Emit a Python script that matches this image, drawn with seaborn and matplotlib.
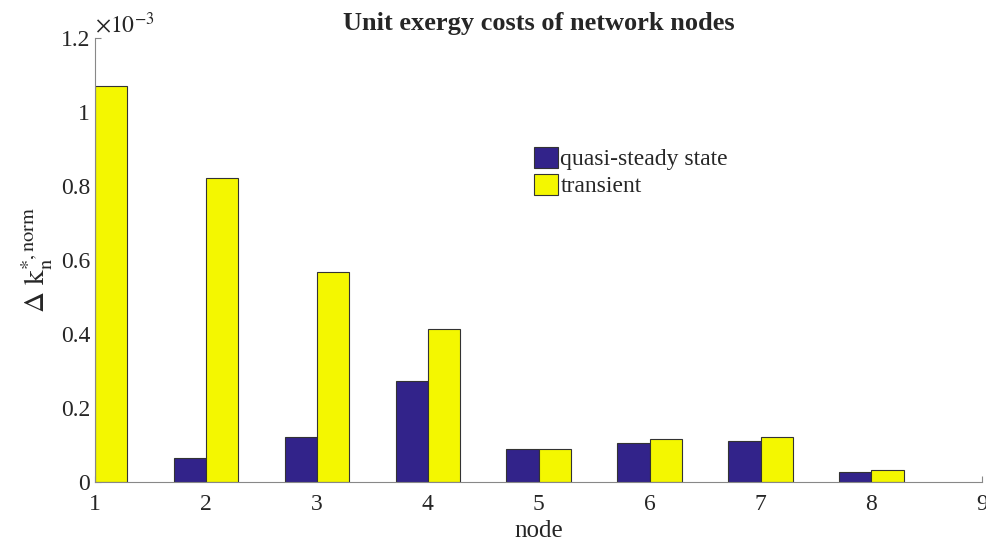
import numpy as np
import pandas as pd
import seaborn as sns
import matplotlib.pyplot as plt
from matplotlib.ticker import FuncFormatter

nodes = [1, 2, 3, 4, 5, 6, 7, 8]
quasi_steady = [0.0, 0.065e-3, 0.122e-3, 0.273e-3, 0.088e-3, 0.105e-3, 0.110e-3, 0.026e-3]
transient = [1.070e-3, 0.822e-3, 0.568e-3, 0.414e-3, 0.090e-3, 0.117e-3, 0.122e-3, 0.032e-3]
series = ['quasi-steady state', 'transient']
colors = ['#32238A', '#F4F700']

df = pd.DataFrame({
    'node': nodes * 2,
    'value': quasi_steady + transient,
    'case': [series[0]] * len(nodes) + [series[1]] * len(nodes),
})

sns.set_style('white')
plt.rcParams['font.family'] = ['Liberation Serif', 'DejaVu Serif']
plt.rcParams['mathtext.fontset'] = 'stix'

fig = plt.figure(figsize=(9.86, 5.44), dpi=100)
ax = fig.add_axes([0.0963, 0.114, 0.9, 0.816])

sns.barplot(data=df, x='node', y='value', hue='case', native_scale=True,
            palette=colors, width=0.58, edgecolor='#333333', linewidth=0.8,
            saturation=1, ax=ax)

ax.set_xlim(1, 9)
ax.set_ylim(0, 1.2e-3)
ax.set_xticks(range(1, 10))
ax.set_yticks(np.arange(0, 1.21e-3, 0.2e-3))
ax.yaxis.set_major_formatter(FuncFormatter(lambda v, p: f'{v * 1e3:g}'))
ax.tick_params(labelsize=17, direction='in', length=4, color='#888888',
               left=True, bottom=True)
ax.tick_params(axis='x', pad=9)
for s in ['top', 'right']:
    ax.spines[s].set_visible(False)
for s in ['left', 'bottom']:
    ax.spines[s].set_color('#888888')
    ax.spines[s].set_linewidth(0.8)

ax.set_xlabel('node', fontsize=18, labelpad=3)
ax.set_ylabel(r'$\Delta\ \mathrm{k}_{\mathrm{n}}^{*,\mathrm{norm}}$', fontsize=21, labelpad=4)
ax.set_title('Unit exergy costs of network nodes', fontsize=19,
             fontweight='bold', pad=6)
ax.text(0.0, 1.0, r'$\times10^{-3}$', transform=ax.transAxes, fontsize=17,
        ha='left', va='bottom')

ax.legend(loc='upper left', bbox_to_anchor=(0.484, 0.777), frameon=False,
          fontsize=17, handlelength=1.0, handleheight=1.0, handletextpad=0.12,
          labelspacing=0.15, borderaxespad=0)

fig.savefig('out.png', dpi=100)
